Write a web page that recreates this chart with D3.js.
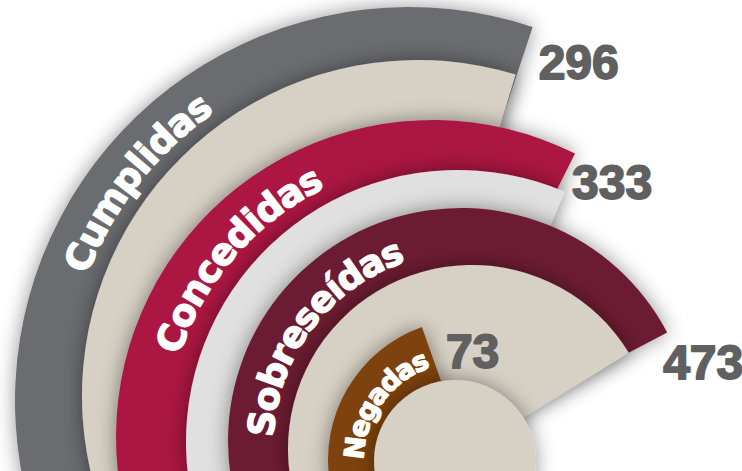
<!DOCTYPE html>
<html>
<head>
<meta charset="utf-8">
<script src="https://cdn.jsdelivr.net/npm/d3@7"></script>
<style>
  body { margin: 0; background: #fff; }
  svg { display: block; }
</style>
</head>
<body>
<div id="chart"></div>
<script>
//chart data
var categories = ["Cumplidas", "Concedidas", "Sobreseídas", "Negadas"];
var values = [296, 333, 473, 73];
var valueLabels = ["296", "333", "473", "73"];

//svg dimensions
var svgWidth = 742;
var svgHeight = 471;

//ring layout: centre + radius of the coloured band and of the light wedge inside it
var rings = [
    {outer: [409, 401], R: 394, inner: [418, 396], r: 336, trim: 1.4, band: "#6b6c70", bandIn: "#46474a", fill: "#d7d1c5", fillIn: "#d3cdc1", textAngle: -52, fontSize: 37, lab: [6, 52]},
    {outer: [433, 437], R: 317, inner: [458, 442], r: 272, trim: 3.5, band: "#ab1642", bandIn: "#8a1035", fill: "#e0e0e0", fillIn: "#a9a9a9", textAngle: -49, fontSize: 37, lab: [-3, 45]},
    {outer: [461, 441], R: 233, inner: [472, 449], r: 184, trim: 3.8, band: "#6c1b31", bandIn: "#4e1226", fill: "#d7d1c5", fillIn: "#aaa495", textAngle: -53, fontSize: 36, lab: [-4, 47]},
    {outer: [469, 460], R: 141, inner: [455, 461], r: 81, trim: 0, band: "#7d420c", bandIn: "#6b3608", fill: "#d7d1c5", fillIn: "#d7d1c5", textAngle: -54, fontSize: 27, lab: [24, 41], hub: true}
];

var rad = Math.PI / 180;

//angle scale: value -> end angle of each arc
var angleScale = d3.scalePow()
    .exponent(1.5)
    .domain([0, 500])
    .range([-24.8 * rad, 69.8 * rad]);

var startAngle = -Math.PI;

var svg = d3.select("#chart")
    .append("svg")
    .attr("width", svgWidth)
    .attr("height", svgHeight);

var defs = svg.append("defs");

defs.append("filter")
    .attr("id", "shadow")
    .attr("x", "-25%").attr("y", "-25%")
    .attr("width", "150%").attr("height", "150%")
    .append("feDropShadow")
    .attr("dx", 0).attr("dy", 0)
    .attr("stdDeviation", 10)
    .attr("flood-color", "#000")
    .attr("flood-opacity", 0.42);

var arc = d3.arc();

rings.forEach(function(ring, i) {
    var endAngle = angleScale(values[i]);

    //band gradient, darker towards the centre
    var grad = defs.append("radialGradient")
        .attr("id", "grad" + i)
        .attr("gradientUnits", "userSpaceOnUse")
        .attr("cx", ring.outer[0]).attr("cy", ring.outer[1])
        .attr("r", ring.R);
    grad.append("stop").attr("offset", 0).attr("stop-color", ring.bandIn);
    grad.append("stop").attr("offset", ring.r / ring.R - 0.02).attr("stop-color", ring.bandIn);
    grad.append("stop").attr("offset", 1).attr("stop-color", ring.band);

    //light wedge gradient, shaded where the next ring sits on it
    var next = rings[i + 1];
    var shadeStart = next ? (next.R + 4) / ring.r : 0.9;
    var fgrad = defs.append("radialGradient")
        .attr("id", "fgrad" + i)
        .attr("gradientUnits", "userSpaceOnUse")
        .attr("cx", ring.inner[0]).attr("cy", ring.inner[1])
        .attr("r", ring.r);
    fgrad.append("stop").attr("offset", 0).attr("stop-color", ring.fillIn);
    fgrad.append("stop").attr("offset", shadeStart).attr("stop-color", ring.fillIn);
    fgrad.append("stop").attr("offset", Math.min(1, shadeStart + (1 - shadeStart) * 0.7)).attr("stop-color", ring.fill);
    fgrad.append("stop").attr("offset", 1).attr("stop-color", ring.fill);

    var g = svg.append("g");

    //coloured band (drawn as a full wedge)
    g.append("path")
        .attr("transform", `translate(${ring.outer[0]}, ${ring.outer[1]})`)
        .attr("d", arc({innerRadius: 0, outerRadius: ring.R, startAngle: startAngle, endAngle: endAngle}))
        .attr("fill", "url(#grad" + i + ")")
        .attr("filter", "url(#shadow)");

    //light wedge / hub
    if (ring.hub) {
        g.append("circle")
            .attr("cx", ring.inner[0])
            .attr("cy", ring.inner[1])
            .attr("r", ring.r)
            .attr("fill", ring.fill)
            .attr("filter", "url(#shadow)");
    } else {
        g.append("path")
            .attr("transform", `translate(${ring.inner[0]}, ${ring.inner[1]})`)
            .attr("d", arc({innerRadius: 0, outerRadius: ring.r, startAngle: startAngle, endAngle: endAngle - ring.trim * rad}))
            .attr("fill", "url(#fgrad" + i + ")")
            .attr("filter", "url(#shadow)");
    }

    //curved category label
    var tcx = (ring.outer[0] + ring.inner[0]) / 2;
    var tcy = (ring.outer[1] + ring.inner[1]) / 2;
    var tr = ring.r + 0.45 * (ring.R - ring.r);
    var a = ring.textAngle * rad;
    var p = d3.path();
    p.arc(tcx, tcy, tr, a - 80 * rad - Math.PI / 2, a + 80 * rad - Math.PI / 2);

    defs.append("path")
        .attr("id", "tp" + i)
        .attr("d", p.toString());

    g.append("text")
        .attr("font-family", "'DejaVu Sans', sans-serif")
        .attr("font-weight", "bold")
        .attr("font-size", ring.fontSize)
        .attr("fill", "#fff")
        .attr("stroke", "#fff")
        .attr("stroke-width", 1.4)
        .attr("stroke-linejoin", "round")
        .attr("dy", "0.36em")
        .append("textPath")
        .attr("href", "#tp" + i)
        .attr("startOffset", "50%")
        .attr("text-anchor", "middle")
        .text(categories[i]);
});

//value labels next to the end of each arc
rings.forEach(function(ring, i) {
    var endAngle = angleScale(values[i]);
    var x = ring.outer[0] + ring.R * Math.sin(endAngle);
    var y = ring.outer[1] - ring.R * Math.cos(endAngle);

    svg.append("text")
        .attr("x", x + ring.lab[0])
        .attr("y", y + ring.lab[1])
        .attr("font-family", "'Liberation Sans', Arial, sans-serif")
        .attr("font-weight", "bold")
        .attr("font-size", 48)
        .attr("fill", "#606060")
        .attr("stroke", "#606060")
        .attr("stroke-width", 1.8)
        .attr("stroke-linejoin", "round")
        .text(valueLabels[i]);
});
</script>
</body>
</html>
